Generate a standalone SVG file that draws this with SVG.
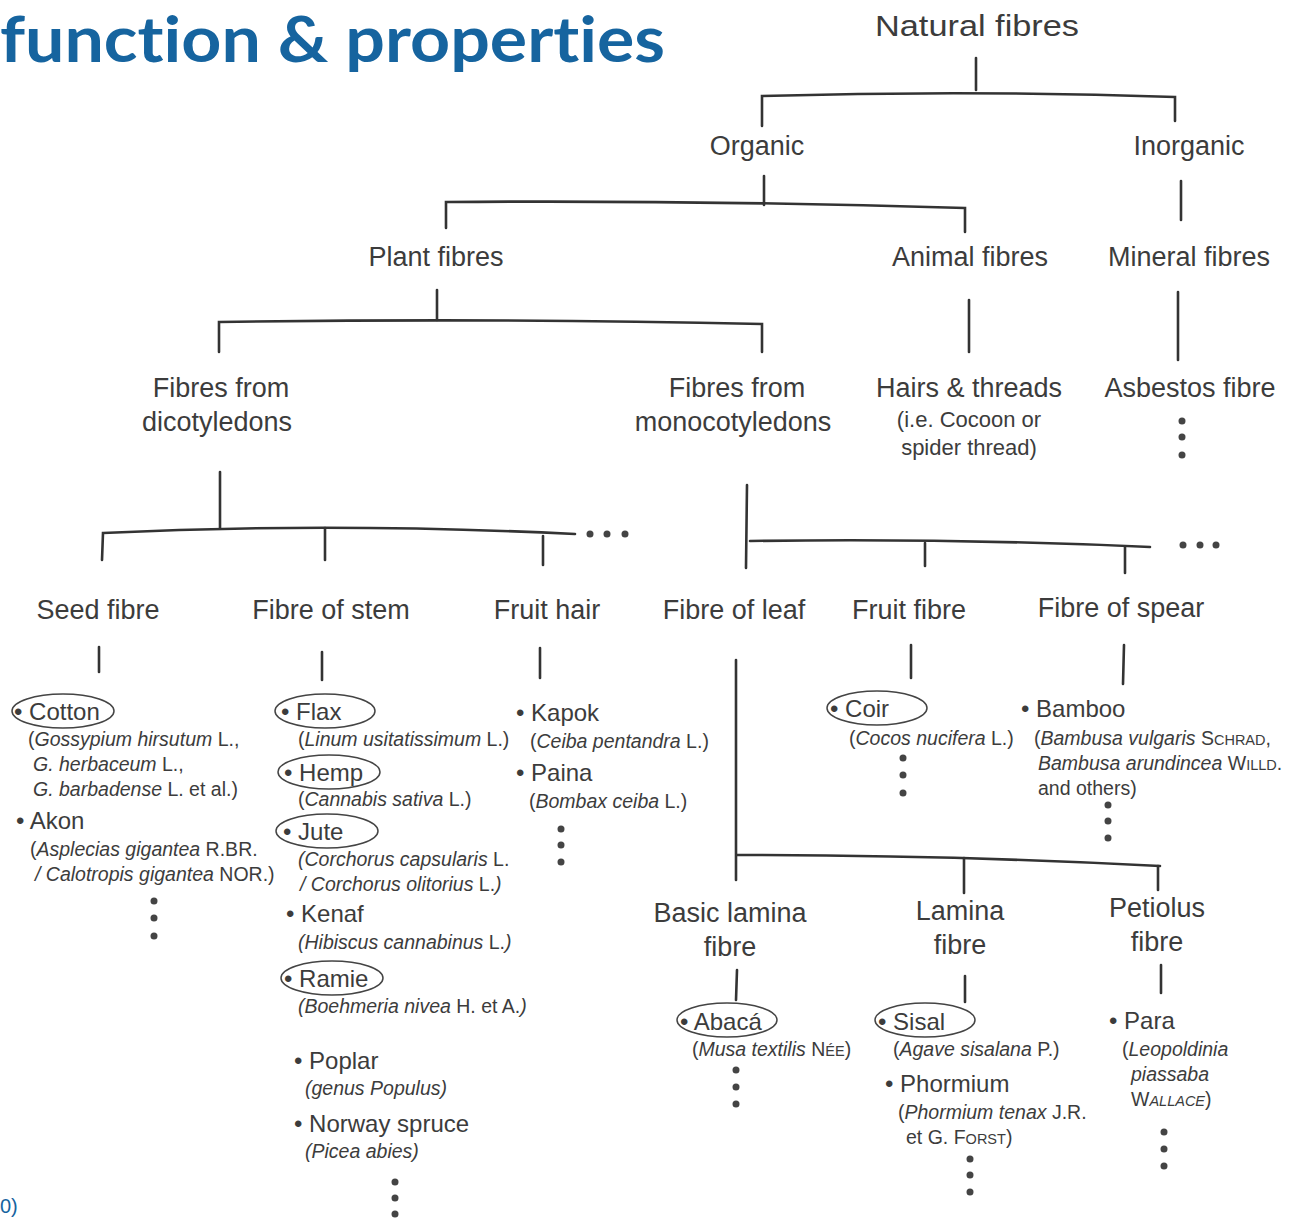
<svg xmlns="http://www.w3.org/2000/svg" width="1301" height="1218" viewBox="0 0 1301 1218">
<style>
text{font-family:"Liberation Sans",Arial,sans-serif;fill:#3c3c3c}
.lbl{font-size:27px;text-anchor:middle}
.item{font-size:24px}
.sci{font-size:19.5px}
.i{font-style:italic}
.sc{font-size:14.5px}
.note{font-size:22px}
.ln{stroke:#333;stroke-width:2.6;fill:none;stroke-linecap:round}
.ell{fill:none;stroke:#444;stroke-width:1.5}
.dot{fill:#444}
.title{font-family:Lato,"Open Sans",sans-serif;font-weight:bold;fill:#16649f;font-variant-ligatures:none}
</style>
<rect width="1301" height="1218" fill="#fff"/>
<text class="title" x="0" y="62" font-size="64" textLength="665" lengthAdjust="spacingAndGlyphs">function &amp; properties</text>
<text x="0" y="1213" style="fill:#16649f;font-size:20px">0)</text>

<g id="connectors">
<path class="ln" d="M976,58 L976,90"/>
<path class="ln" d="M762,126 L762,96 Q970,90 1175,97 L1175,121"/>
<path class="ln" d="M764,176 L764,205"/>
<path class="ln" d="M446,228 L446,202 Q700,200 965,208 L965,232"/>
<path class="ln" d="M1181,181 L1181,220"/>
<path class="ln" d="M437,290 L437,320"/>
<path class="ln" d="M219,352 L219,322 Q500,318 762,324 L762,352"/>
<path class="ln" d="M969,300 L969,352"/>
<path class="ln" d="M1178,292 L1178,360"/>
<path class="ln" d="M220,472 L220,528"/>
<path class="ln" d="M102,560 L103,533 Q330,522 575,534"/>
<path class="ln" d="M325,528 L325,560"/>
<path class="ln" d="M543,536 L543,565"/>
<path class="ln" d="M747,485 L746,568"/>
<path class="ln" d="M750,541 Q950,538 1150,547"/>
<path class="ln" d="M925,543 L925,566"/>
<path class="ln" d="M1125,547 L1125,573"/>
<path class="ln" d="M99,647 L99,672"/>
<path class="ln" d="M322,652 L322,680"/>
<path class="ln" d="M540,648 L540,678"/>
<path class="ln" d="M911,645 L911,678"/>
<path class="ln" d="M1124,645 L1123,684"/>
<path class="ln" d="M736,660 L736,880"/>
<path class="ln" d="M737,855 Q950,855 1160,866"/>
<path class="ln" d="M964,858 L964,893"/>
<path class="ln" d="M1158,866 L1158,890"/>
<path class="ln" d="M737,970 L736,1000"/>
<path class="ln" d="M965,976 L965,1002"/>
<path class="ln" d="M1161,965 L1161,993"/>
<g class="dot">
<circle cx="590" cy="534" r="3.5"/><circle cx="607" cy="534" r="3.5"/><circle cx="625" cy="534" r="3.5"/>
<circle cx="1183" cy="545" r="3.5"/><circle cx="1200" cy="545" r="3.5"/><circle cx="1216" cy="545" r="3.5"/>
</g>
</g>

<g id="n-natural"><text class="lbl" x="977" y="36" style="font-size:30px" textLength="204" lengthAdjust="spacingAndGlyphs">Natural fibres</text></g>
<g id="n-organic"><text class="lbl" x="757" y="155">Organic</text></g>
<g id="n-inorganic"><text class="lbl" x="1189" y="155">Inorganic</text></g>
<g id="n-plant"><text class="lbl" x="436" y="266">Plant fibres</text></g>
<g id="n-animal"><text class="lbl" x="970" y="266">Animal fibres</text></g>
<g id="n-mineral"><text class="lbl" x="1189" y="266">Mineral fibres</text></g>
<g id="n-dicot"><text class="lbl" x="221" y="397">Fibres from</text><text class="lbl" x="217" y="431">dicotyledons</text></g>
<g id="n-monocot"><text class="lbl" x="737" y="397">Fibres from</text><text class="lbl" x="733" y="431">monocotyledons</text></g>
<g id="n-hairs"><text class="lbl" x="969" y="397">Hairs &amp; threads</text>
<text class="lbl note" x="969" y="427">(i.e. Cocoon or</text>
<text class="lbl note" x="969" y="455">spider thread)</text></g>
<g id="n-asbestos"><text class="lbl" x="1190" y="397">Asbestos fibre</text>
<g class="dot"><circle cx="1182" cy="421" r="3.5"/><circle cx="1182" cy="437" r="3.5"/><circle cx="1182" cy="455" r="3.5"/></g></g>

<g id="n-seed"><text class="lbl" x="98" y="619">Seed fibre</text></g>
<g id="n-stem"><text class="lbl" x="331" y="619">Fibre of stem</text></g>
<g id="n-fruithair"><text class="lbl" x="547" y="619">Fruit hair</text></g>
<g id="n-leaf"><text class="lbl" x="734" y="619">Fibre of leaf</text></g>
<g id="n-fruitfibre"><text class="lbl" x="909" y="619">Fruit fibre</text></g>
<g id="n-spear"><text class="lbl" x="1121" y="617">Fibre of spear</text></g>

<g id="l-seed">
<ellipse class="ell" cx="63" cy="711" rx="51" ry="17"/>
<text class="item" x="14" y="720">• Cotton</text>
<text class="sci" x="28" y="746">(<tspan class="i">Gossypium hirsutum</tspan> L.,</text>
<text class="sci i" x="33" y="771">G. herbaceum <tspan font-style="normal">L.,</tspan></text>
<text class="sci" x="33" y="796"><tspan class="i">G. barbadense</tspan> L.  et al.)</text>
<text class="item" x="16" y="829">• Akon</text>
<text class="sci" x="30" y="856">(<tspan class="i">Asplecias gigantea</tspan> R.BR.</text>
<text class="sci" x="35" y="881"><tspan class="i">/ Calotropis gigantea</tspan> NOR.)</text>
<g class="dot"><circle cx="154" cy="901" r="3.5"/><circle cx="154" cy="918" r="3.5"/><circle cx="154" cy="936" r="3.5"/></g>
</g>

<g id="l-stem">
<ellipse class="ell" cx="325" cy="711" rx="50" ry="17"/>
<text class="item" x="281" y="720">• Flax</text>
<text class="sci" x="298" y="746">(<tspan class="i">Linum usitatissimum</tspan> L.)</text>
<ellipse class="ell" cx="329" cy="772" rx="51" ry="17"/>
<text class="item" x="284" y="781">• Hemp</text>
<text class="sci" x="298" y="806">(<tspan class="i">Cannabis sativa</tspan> L.)</text>
<ellipse class="ell" cx="327" cy="831" rx="51" ry="17"/>
<text class="item" x="283" y="840">• Jute</text>
<text class="sci" x="298" y="866"><tspan class="i">(Corchorus capsularis</tspan> L.</text>
<text class="sci" x="300" y="891"><tspan class="i">/ Corchorus olitorius</tspan> L.<tspan class="i">)</tspan></text>
<text class="item" x="286" y="922">• Kenaf</text>
<text class="sci" x="298" y="949"><tspan class="i">(Hibiscus cannabinus</tspan> L.<tspan class="i">)</tspan></text>
<ellipse class="ell" cx="332" cy="978" rx="51" ry="17"/>
<text class="item" x="284" y="987">• Ramie</text>
<text class="sci" x="298" y="1013"><tspan class="i">(Boehmeria nivea</tspan> H. et A.<tspan class="i">)</tspan></text>
<text class="item" x="294" y="1069">• Poplar</text>
<text class="sci i" x="305" y="1095">(genus Populus)</text>
<text class="item" x="294" y="1132">• Norway spruce</text>
<text class="sci i" x="305" y="1158">(Picea abies)</text>
<g class="dot"><circle cx="395" cy="1182" r="3.5"/><circle cx="395" cy="1198" r="3.5"/><circle cx="395" cy="1214" r="3.5"/></g>
</g>

<g id="l-fruithair">
<text class="item" x="516" y="721">• Kapok</text>
<text class="sci" x="530" y="748">(<tspan class="i">Ceiba pentandra</tspan> L.)</text>
<text class="item" x="516" y="781">• Paina</text>
<text class="sci" x="529" y="808">(<tspan class="i">Bombax ceiba</tspan> L.)</text>
<g class="dot"><circle cx="561" cy="829" r="3.5"/><circle cx="561" cy="845" r="3.5"/><circle cx="561" cy="862" r="3.5"/></g>
</g>

<g id="n-basic"><text class="lbl" x="730" y="922">Basic lamina</text><text class="lbl" x="730" y="956">fibre</text></g>
<g id="n-lamina"><text class="lbl" x="960" y="920">Lamina</text><text class="lbl" x="960" y="954">fibre</text></g>
<g id="n-petiolus"><text class="lbl" x="1157" y="917">Petiolus</text><text class="lbl" x="1157" y="951">fibre</text></g>

<g id="l-basic">
<ellipse class="ell" cx="727" cy="1020" rx="50" ry="17"/>
<text class="item" x="680" y="1030">• Abacá</text>
<text class="sci" x="692" y="1056">(<tspan class="i">Musa textilis</tspan> N<tspan class="sc">ÉE</tspan>)</text>
<g class="dot"><circle cx="736" cy="1070" r="3.5"/><circle cx="736" cy="1087" r="3.5"/><circle cx="736" cy="1104" r="3.5"/></g>
</g>

<g id="l-lamina">
<ellipse class="ell" cx="925" cy="1020" rx="50" ry="17"/>
<text class="item" x="878" y="1030">• Sisal</text>
<text class="sci" x="893" y="1056">(<tspan class="i">Agave sisalana</tspan> P.)</text>
<text class="item" x="885" y="1092">• Phormium</text>
<text class="sci" x="898" y="1119">(<tspan class="i">Phormium tenax</tspan> J.R.</text>
<text class="sci" x="906" y="1144">et G. F<tspan class="sc">ORST</tspan>)</text>
<g class="dot"><circle cx="970" cy="1159" r="3.5"/><circle cx="970" cy="1175" r="3.5"/><circle cx="970" cy="1192" r="3.5"/></g>
</g>

<g id="l-petiolus">
<text class="item" x="1109" y="1029">• Para</text>
<text class="sci" x="1122" y="1056">(<tspan class="i">Leopoldinia</tspan></text>
<text class="sci i" x="1131" y="1081">piassaba</text>
<text class="sci" x="1131" y="1106">W<tspan class="sc i">ALLACE</tspan>)</text>
<g class="dot"><circle cx="1164" cy="1132" r="3.5"/><circle cx="1164" cy="1149" r="3.5"/><circle cx="1164" cy="1166" r="3.5"/></g>
</g>

<g id="l-fruitfibre">
<ellipse class="ell" cx="877" cy="708" rx="50" ry="17"/>
<text class="item" x="830" y="717">• Coir</text>
<text class="sci" x="849" y="745">(<tspan class="i">Cocos nucifera</tspan> L.)</text>
<g class="dot"><circle cx="903" cy="758" r="3.5"/><circle cx="903" cy="775" r="3.5"/><circle cx="903" cy="793" r="3.5"/></g>
</g>

<g id="l-spear">
<text class="item" x="1021" y="717">• Bamboo</text>
<text class="sci" x="1034" y="745">(<tspan class="i">Bambusa vulgaris</tspan> S<tspan class="sc">CHRAD</tspan>,</text>
<text class="sci" x="1038" y="770"><tspan class="i">Bambusa arundincea</tspan> W<tspan class="sc">ILLD</tspan>.</text>
<text class="sci" x="1038" y="795">and others)</text>
<g class="dot"><circle cx="1108" cy="805" r="3.5"/><circle cx="1108" cy="821" r="3.5"/><circle cx="1108" cy="838" r="3.5"/></g>
</g>
</svg>
